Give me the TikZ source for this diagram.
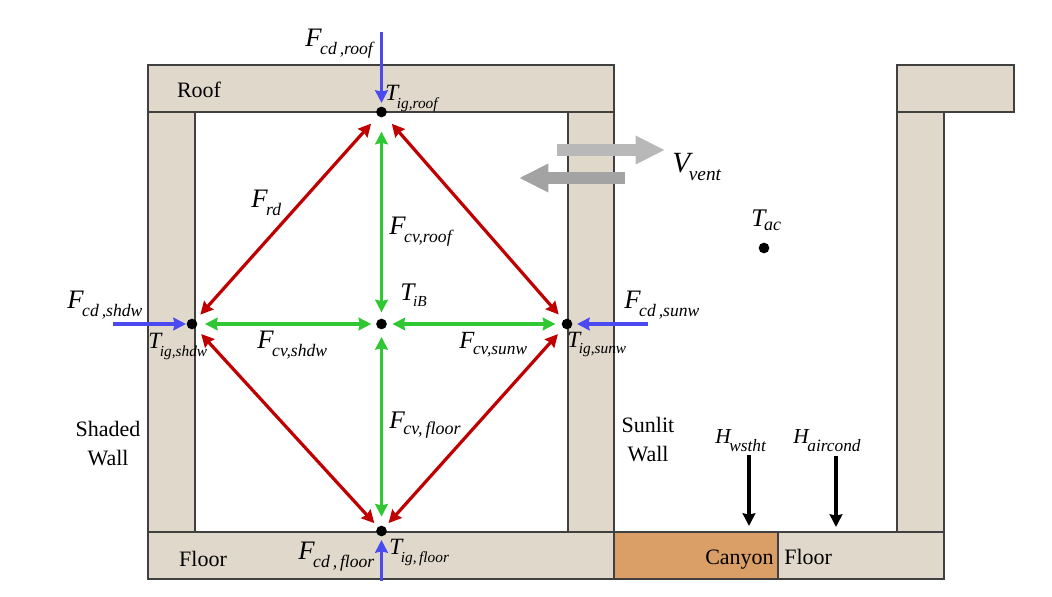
\documentclass[tikz,border=0pt]{standalone}
\usepackage{fontspec}
\setmainfont{Liberation Serif}
\usepackage{xcolor}
\usepackage{tikz}
\usetikzlibrary{arrows.meta, positioning, calc}

\definecolor{wallfill}{HTML}{DFD8CB}
\definecolor{canyonfill}{HTML}{DA9F66}
\definecolor{edgegray}{HTML}{404040}
\definecolor{radred}{HTML}{C00000}
\definecolor{cvgreen}{HTML}{2FC832}
\definecolor{cdblue}{HTML}{4A4AF0}

% variable with a dropped subscript: size, sub size, drop, letter, subscript
\newcommand{\varlbl}[5]{{\itshape\fontsize{#1}{#1}\selectfont #4\kern-1pt\raisebox{-#3}{\fontsize{#2}{#2}\selectfont #5}}}
\newcommand{\Flbl}[2]{\varlbl{20pt}{13.2pt}{6.7pt}{#1}{#2}}
\newcommand{\Tlbl}[2]{\varlbl{17.5pt}{11.5pt}{6pt}{#1}{#2}}

\begin{document}
\begin{tikzpicture}[
x=0.75pt, y=-0.75pt,
>={Stealth[length=9.5pt,width=9.5pt,inset=1pt]},
wall_part/.style={draw=edgegray, line width=1.1pt, fill=wallfill},
canyon_part/.style={draw=edgegray, line width=1.1pt, fill=canyonfill},
dot_node/.style={circle, fill=black, inner sep=0pt, minimum size=8pt},
word_node/.style={anchor=base, font=\fontsize{16.5pt}{21.75pt}\selectfont, align=center, inner sep=0pt},
var_node/.style={anchor=base west, inner sep=0pt},
rad_edge/.style={<->, draw=radred, line width=2.4pt},
cv_edge/.style={<->, draw=cvgreen, line width=2.4pt},
cd_edge/.style={->, draw=cdblue, line width=2.5pt},
ht_edge/.style={->, draw=black, line width=2.6pt},
vent_edge/.style={line width=9pt, -{Triangle[length=22pt,width=20pt]}}
]
\useasboundingbox (0,0) rectangle (1052,596);

% Left building
\draw[wall_part] (148,112) rectangle (195,532);
\draw[wall_part] (568,112) rectangle (614,532);
\draw[wall_part] (148,65) rectangle (614,112);
\draw[wall_part] (148,532) rectangle (614,579);

% Right building and canyon floor
\draw[wall_part] (897,112) rectangle (944,532);
\draw[wall_part] (897,65) rectangle (1014,112);
\draw[canyon_part] (614,532) rectangle (778,579);
\draw[wall_part] (778,532) rectangle (944,579);

% Temperature points
\node[dot_node] (top) at (381.5,112) {};
\node[dot_node] (shdw) at (192,324) {};
\node[dot_node] (sunw) at (567,324) {};
\node[dot_node] (bot) at (381.5,531) {};
\node[dot_node] (mid) at (381.5,324) {};
\node[dot_node] (ac) at (764,248) {};

% Free ends
\coordinate (cd_roof) at (381.5,32);
\coordinate (cd_roof_end) at (381.5,103);
\coordinate (cd_shdw) at (113,324);
\coordinate (cd_shdw_end) at (186,324);
\coordinate (cd_sunw) at (648,324);
\coordinate (cd_sunw_end) at (577,324);
\coordinate (cd_floor) at (381.5,581);
\coordinate (cd_floor_end) at (381.5,540);
\coordinate (wstht) at (749,455);
\coordinate (wstht_end) at (749,526);
\coordinate (aircond) at (836,456);
\coordinate (aircond_end) at (836,527);
\coordinate (vent_out) at (557,150);
\coordinate (vent_out_end) at (665,150);
\coordinate (vent_in) at (625,178);
\coordinate (vent_in_end) at (519,178);

% Edges
\draw[rad_edge, shorten <=7.5pt, shorten >=5.25pt] (top) -- (shdw);
\draw[rad_edge, shorten <=7.5pt, shorten >=5.25pt] (top) -- (sunw);
\draw[rad_edge, shorten <=3.75pt, shorten >=6pt] (bot) -- (shdw);
\draw[rad_edge, shorten <=3.75pt, shorten >=6pt] (bot) -- (sunw);
\draw[cv_edge, shorten <=10.5pt, shorten >=4.5pt] (top) -- (mid);
\draw[cv_edge, shorten <=6.5pt, shorten >=5.5pt] (bot) -- (mid);
\draw[cv_edge, shorten <=5.5pt, shorten >=3.5pt] (shdw) -- (mid);
\draw[cv_edge, shorten <=4.5pt, shorten >=4pt] (sunw) -- (mid);
\draw[cd_edge] (cd_roof) -- (cd_roof_end);
\draw[cd_edge] (cd_shdw) -- (cd_shdw_end);
\draw[cd_edge] (cd_sunw) -- (cd_sunw_end);
\draw[cd_edge] (cd_floor) -- (cd_floor_end);
\draw[ht_edge] (wstht) -- (wstht_end);
\draw[ht_edge] (aircond) -- (aircond_end);
\draw[vent_edge, draw=black!28] (vent_out) -- (vent_out_end);
\draw[vent_edge, draw=black!36] (vent_in) -- (vent_in_end);

% Words
\node[word_node] (roof_txt) at (199,97) {Roof};
\node[word_node] (floor_txt) at (203,566) {Floor};
\node[word_node, anchor=base west] (canyon_txt) at (705,564) {Canyon};
\node[word_node, anchor=base west] (cfloor_txt) at (784,564) {Floor};
\node[word_node] (shaded_txt) at (108,465) {Shaded\\Wall};
\node[word_node] (sunlit_txt) at (648,461) {Sunlit\\Wall};

% Flux labels
\node[var_node] (f_cd_roof) at (305,46) {\Flbl{F}{cd\,,roof}};
\node[var_node] (f_rd) at (251,207) {\Flbl{F}{rd}};
\node[var_node] (f_cv_roof) at (389,234) {\Flbl{F}{cv,roof}};
\node[var_node] (f_cd_shdw) at (67,308) {\Flbl{F}{cd\,,shdw}};
\node[var_node] (f_cv_shdw) at (257,348) {\Flbl{F}{cv,shdw}};
\node[var_node] (f_cv_sunw) at (459,348) {\varlbl{18.5pt}{13pt}{4.5pt}{F}{cv,sunw}};
\node[var_node] (f_cd_sunw) at (624,308) {\Flbl{F}{cd\,,sunw}};
\node[var_node] (f_cv_floor) at (389,428) {\varlbl{19pt}{13.5pt}{4.5pt}{F}{cv,\,floor}};
\node[var_node] (f_cd_floor) at (298,559) {\Flbl{F}{cd\,,\,floor}};

% Temperature labels
\node[var_node] (t_roof) at (385,100) {\Tlbl{T}{ig,roof}};
\node[var_node] (t_shdw) at (148,348) {\Tlbl{T}{ig,shdw}};
\node[var_node] (t_sunw) at (567,347) {\varlbl{17.5pt}{11.5pt}{4.5pt}{T}{ig,sunw}};
\node[var_node] (t_floor) at (389,554) {\Tlbl{T}{ig,\,floor}};
\node[var_node] (t_ib) at (400,300) {\varlbl{19pt}{11.5pt}{5pt}{T}{iB}};
\node[var_node] (t_ac) at (751,226) {\varlbl{19pt}{13.5pt}{3pt}{T}{ac}};

% Other labels
\node[var_node] (v_vent) at (672,172) {\varlbl{22pt}{14.5pt}{6pt}{V}{vent}};
\node[var_node] (h_wstht) at (715,443) {\varlbl{16pt}{13pt}{6.7pt}{H}{wstht}};
\node[var_node] (h_aircond) at (793,443) {\varlbl{16pt}{13pt}{6.7pt}{H}{aircond}};
\end{tikzpicture}
\end{document}
